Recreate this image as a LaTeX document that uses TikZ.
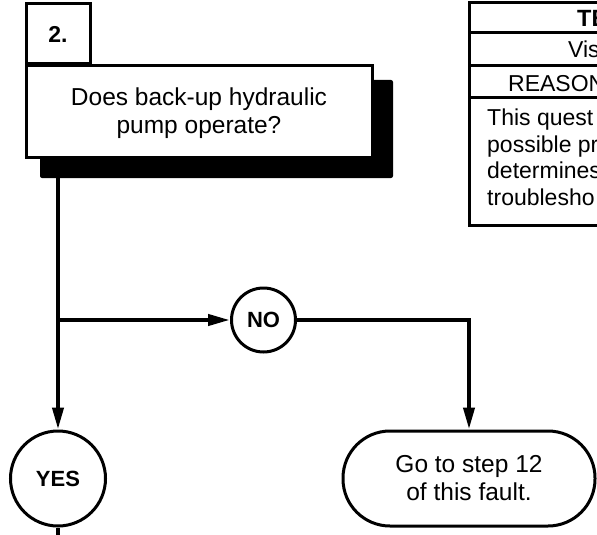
\documentclass[tikz,border=0pt]{standalone}
\usepackage{fontspec}
\setmainfont{Liberation Sans}
\usetikzlibrary{arrows.meta,positioning}
\begin{document}
\begin{tikzpicture}[x=1pt,y=-1pt,
  box/.style={draw, line width=3pt, fill=white, inner sep=0pt, align=center,
    font=\fontsize{24.5}{28}\selectfont},
  answer/.style={circle, draw, line width=3pt, inner sep=0pt,
    font=\fontsize{22}{26}\selectfont\bfseries},
  flow/.style={line width=4pt, -{Triangle[length=22pt,width=11pt]}},
  link/.style={line width=4pt},
  cell/.style={anchor=base west, inner sep=0pt, font=\fontsize{23}{27}\selectfont}]
  \useasboundingbox (0,0) rectangle (597,535);
  \clip (0,0) rectangle (597,535);
  % step number and question
  \node[box, minimum width=64pt, minimum height=60pt,
    font=\fontsize{23}{26}\selectfont\bfseries] (stepno) at (58,34) {2.};
  \node[fill=black, rounded corners=2pt, minimum width=353pt, minimum height=98pt,
    inner sep=0pt] (shadow) at (216.5,129) {};
  \node[box, minimum width=346pt, minimum height=91pt, text depth=2pt] (question) at (199,111.5)
    {Does back-up hydraulic\\pump operate?};
  % answers
  \node[answer, minimum size=64pt] (no) at (263.5,320) {NO};
  \node[answer, minimum size=95pt] (yes) at (58,478.5) {YES};
  \node[box, minimum width=252pt, minimum height=95pt, rounded corners=47pt]
    (goto) at (469,478.5) {Go to step 12\\of this fault.};
  % connectors
  \coordinate (branch) at (yes.north |- no.west);
  \coordinate (yesout) at (yes.south |- 0,545);
  \draw[flow] (shadow.south -| yes.north) -- (yes.north);
  \draw[flow] (branch) -- (no.west);
  \draw[flow] (no.east) -| (goto.north);
  \draw[link] (yes.south) -- (yesout);
  % test table
  \draw[line width=3pt] (469,3) rectangle (720,225);
  \foreach \Y in {33,66,97}
    \draw[line width=3pt] (469,\Y) -- (720,\Y);
  \node[cell, font=\fontsize{23.5}{27}\selectfont\bfseries] (testhead) at (577,27) {TE};
  \node[cell] (testkind) at (568,58) {Vis};
  \node[cell] (reasonhead) at (508,92) {REASON};
  \node[cell] (reason1) at (487,125) {This quest};
  \node[cell] (reason2) at (487,152) {possible pr};
  \node[cell] (reason3) at (487,178) {determines};
  \node[cell] (reason4) at (487,205) {troublesho};
\end{tikzpicture}
\end{document}
